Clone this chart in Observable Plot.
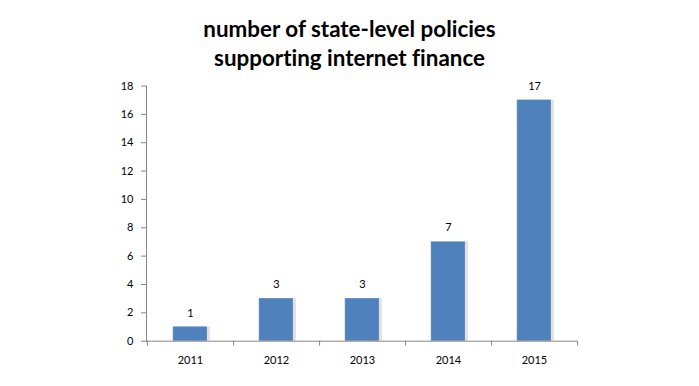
<!DOCTYPE html>
<html>
<head>
<meta charset="utf-8">
<script src="https://cdn.jsdelivr.net/npm/d3@7"></script>
<script src="https://cdn.jsdelivr.net/npm/@observablehq/plot@0.6"></script>
<style>
  html, body { margin: 0; padding: 0; background: #fff; }
  #title { width: 699px; height: 75px; box-sizing: border-box; padding-top: 14px;
    text-align: center; font-family: Lato, "Open Sans", sans-serif; font-weight: bold;
    font-size: 22.4px; line-height: 29px; color: #000; font-variant-ligatures: none; }
</style>
</head>
<body>
<div id="title">number of state-level policies<br>supporting internet finance</div>
<div id="chart"></div>
<script>
const years = ["2011", "2012", "2013", "2014", "2015"];
const counts = [1, 3, 3, 7, 17];
const yTicks = [0, 2, 4, 6, 8, 10, 12, 14, 16, 18];

const data = years.map((year, i) => ({year, count: counts[i]}));

const W = 699, H = 311;
const mL = 146, mR = 122, mT = 10.5, mB = 45.3;
const step = (W - mL - mR) / years.length;
const barW = 34;
const inset = (step - barW) / 2;
const gray = "#868686";
const font = "Lato, sans-serif";

const chart = Plot.plot({
  width: W,
  height: H,
  marginLeft: mL,
  marginRight: mR,
  marginTop: mT,
  marginBottom: mB,
  style: {fontFamily: font, fontSize: "11px", color: "#000", background: "#fff"},
  x: {type: "band", domain: years, padding: 0},
  y: {domain: [0, 18]},
  marks: [
    // shadow
    Plot.barY(data, {x: "year", y: "count", insetLeft: inset - 1, insetRight: inset - 3, fill: "#d4d4d4", fillOpacity: 0.7}),
    Plot.barY(data, {x: "year", y: "count", insetLeft: inset, insetRight: inset, fill: "#4F81BD"}),
    Plot.text(data, {x: "year", y: "count", text: d => String(d.count), dy: -14, lineAnchor: "middle", fill: "#000", fontSize: 11, fontFamily: font}),
    Plot.frame({anchor: "left", stroke: gray}),
    Plot.ruleY([0], {stroke: gray}),
    Plot.axisY({ticks: yTicks, tickSize: 5, tickPadding: 8, stroke: gray, tickFormat: d => String(d), fill: "#000", label: null, fontFamily: font, fontSize: 11}),
    Plot.axisX({tickSize: 0, tickPadding: 15, fill: "#000", label: null, fontFamily: font, fontSize: 11}),
    Plot.axisX({tickSize: 5, text: null, stroke: gray, dx: step / 2, label: null}),
    Plot.axisX([years[0]], {tickSize: 5, text: null, stroke: gray, dx: -step / 2, label: null})
  ]
});
document.getElementById("chart").appendChild(chart);
</script>
</body>
</html>
